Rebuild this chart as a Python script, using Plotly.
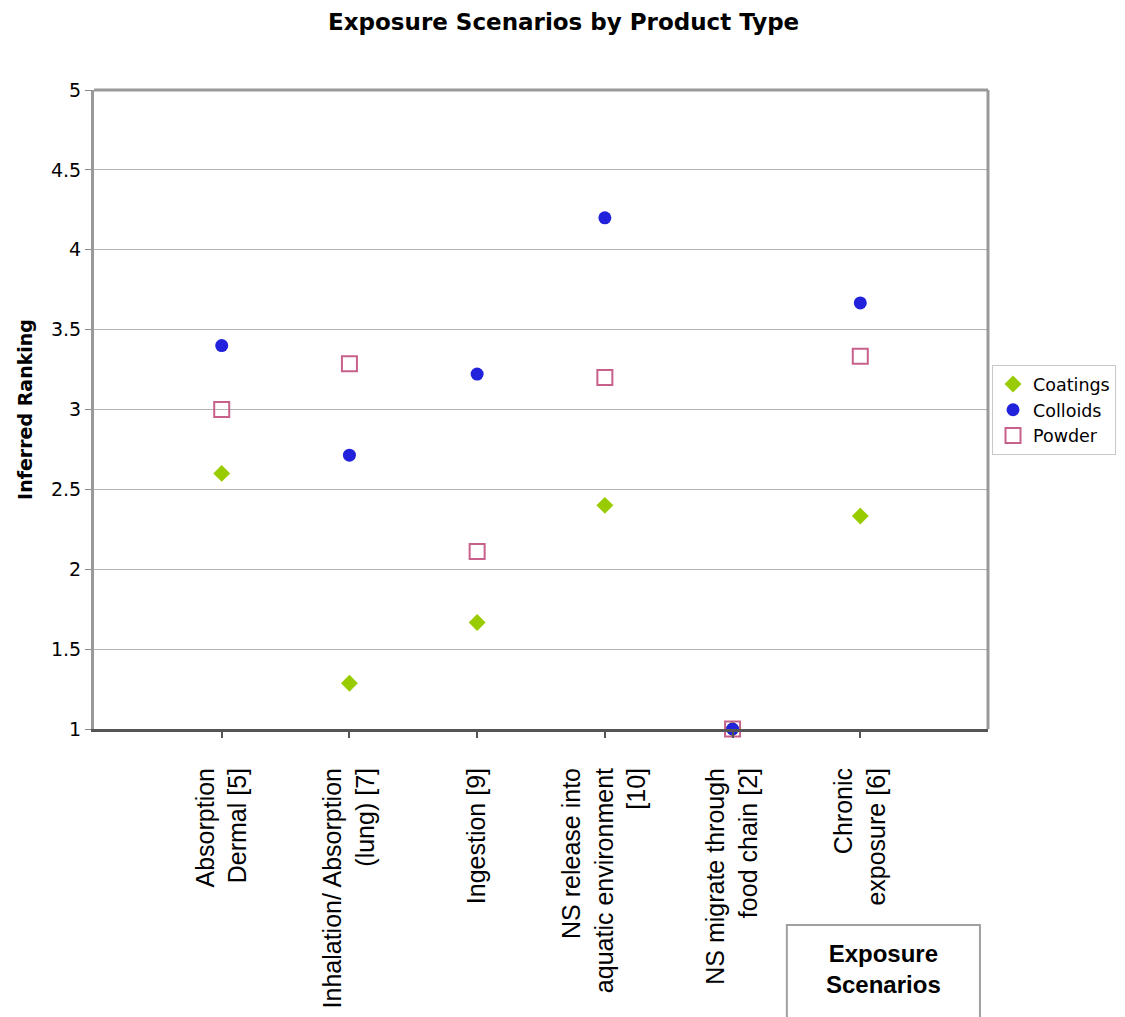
import plotly.graph_objects as go

# Exposure scenarios (x categories) and the inferred ranking per product type
scenarios = [
    "Absorption<br>Dermal [5]",
    "Inhalation/ Absorption<br>(lung) [7]",
    "Ingestion [9]",
    "NS release into<br>aquatic environment<br>[10]",
    "NS migrate through<br>food chain [2]",
    "Chronic<br>exposure [6]",
]
positions = [1, 2, 3, 4, 5, 6]

coatings = [2.6, 1.286, 1.667, 2.4, 1.0, 2.333]
colloids = [3.4, 2.714, 3.222, 4.2, 1.0, 3.667]
powder = [3.0, 3.286, 2.111, 3.2, 1.0, 3.333]

y_ticks = [1, 1.5, 2, 2.5, 3, 3.5, 4, 4.5, 5]
y_ticktext = ["1", "1.5", "2", "2.5", "3", "3.5", "4", "4.5", "5"]

fig = go.Figure()
fig.add_trace(go.Scatter(
    x=positions, y=coatings, mode="markers", name="Coatings", cliponaxis=False,
    marker=dict(symbol="diamond", size=13, color="#99cc00", line=dict(width=0)),
))
fig.add_trace(go.Scatter(
    x=positions, y=colloids, mode="markers", name="Colloids", cliponaxis=False,
    marker=dict(symbol="circle", size=13, color="#2222dd", line=dict(width=0)),
))
fig.add_trace(go.Scatter(
    x=positions, y=powder, mode="markers", name="Powder", cliponaxis=False,
    marker=dict(symbol="square-open", size=15, color="#c8608c",
                line=dict(width=2, color="#c8608c")),
))

# boxed x-axis caption below the tick labels
fig.add_shape(type="rect", xref="paper", yref="paper",
              x0=0.775, x1=0.991, y0=-0.50, y1=-0.3067,
              line=dict(color="#a0a0a0", width=2), fillcolor="white", layer="above")
fig.add_annotation(xref="paper", yref="paper", x=0.883, y=-0.376,
                   text="<b>Exposure<br>Scenarios</b>", showarrow=False,
                   font=dict(family="Liberation Sans", size=24, color="black"),
                   xanchor="center", yanchor="middle")

# frame on top and right of the plotting area
fig.add_shape(type="line", xref="paper", yref="paper", x0=0, x1=1, y0=1, y1=1,
              line=dict(color="#999999", width=3))
fig.add_shape(type="line", xref="paper", yref="paper", x0=1, x1=1, y0=0, y1=1,
              line=dict(color="#999999", width=3))

fig.update_layout(
    width=1125, height=1017,
    margin=dict(l=94, r=137, t=90, b=288, autoexpand=False),
    paper_bgcolor="white", plot_bgcolor="white",
    title=dict(text="<b>Exposure Scenarios by Product Type</b>",
               x=0.501, xanchor="center", y=0.978, yanchor="middle",
               font=dict(family="DejaVu Sans", size=23, color="black")),
    showlegend=True,
    legend=dict(x=1.0045, xanchor="left", y=0.499, yanchor="middle",
                bordercolor="#c8c8c8", borderwidth=1, bgcolor="white",
                font=dict(family="DejaVu Sans", size=17.5, color="black"),
                tracegroupgap=0, itemwidth=30),
    xaxis=dict(
        range=[0, 7], tickmode="array", tickvals=positions, ticktext=scenarios,
        tickangle=-90, ticks="outside", ticklen=6, tickwidth=2, tickcolor="#555555",
        ticklabelstandoff=20, automargin=False,
        showgrid=False, zeroline=False,
        showline=True, linecolor="#555555", linewidth=3,
        tickfont=dict(family="Liberation Sans", size=25, color="black"),
        fixedrange=True,
    ),
    yaxis=dict(
        range=[1, 5], tickmode="array", tickvals=y_ticks, ticktext=y_ticktext,
        ticks="outside", ticklen=6, tickwidth=1, tickcolor="#888888",
        automargin=False,
        showgrid=True, gridcolor="#b4b4b4", gridwidth=1,
        zeroline=False, showline=True, linecolor="#999999", linewidth=3,
        tickfont=dict(family="DejaVu Sans", size=19, color="black"),
        title=dict(text="<b>Inferred Ranking</b>", standoff=14,
                   font=dict(family="DejaVu Sans", size=19, color="black")),
        fixedrange=True,
    ),
)

fig.write_html("out.html")
